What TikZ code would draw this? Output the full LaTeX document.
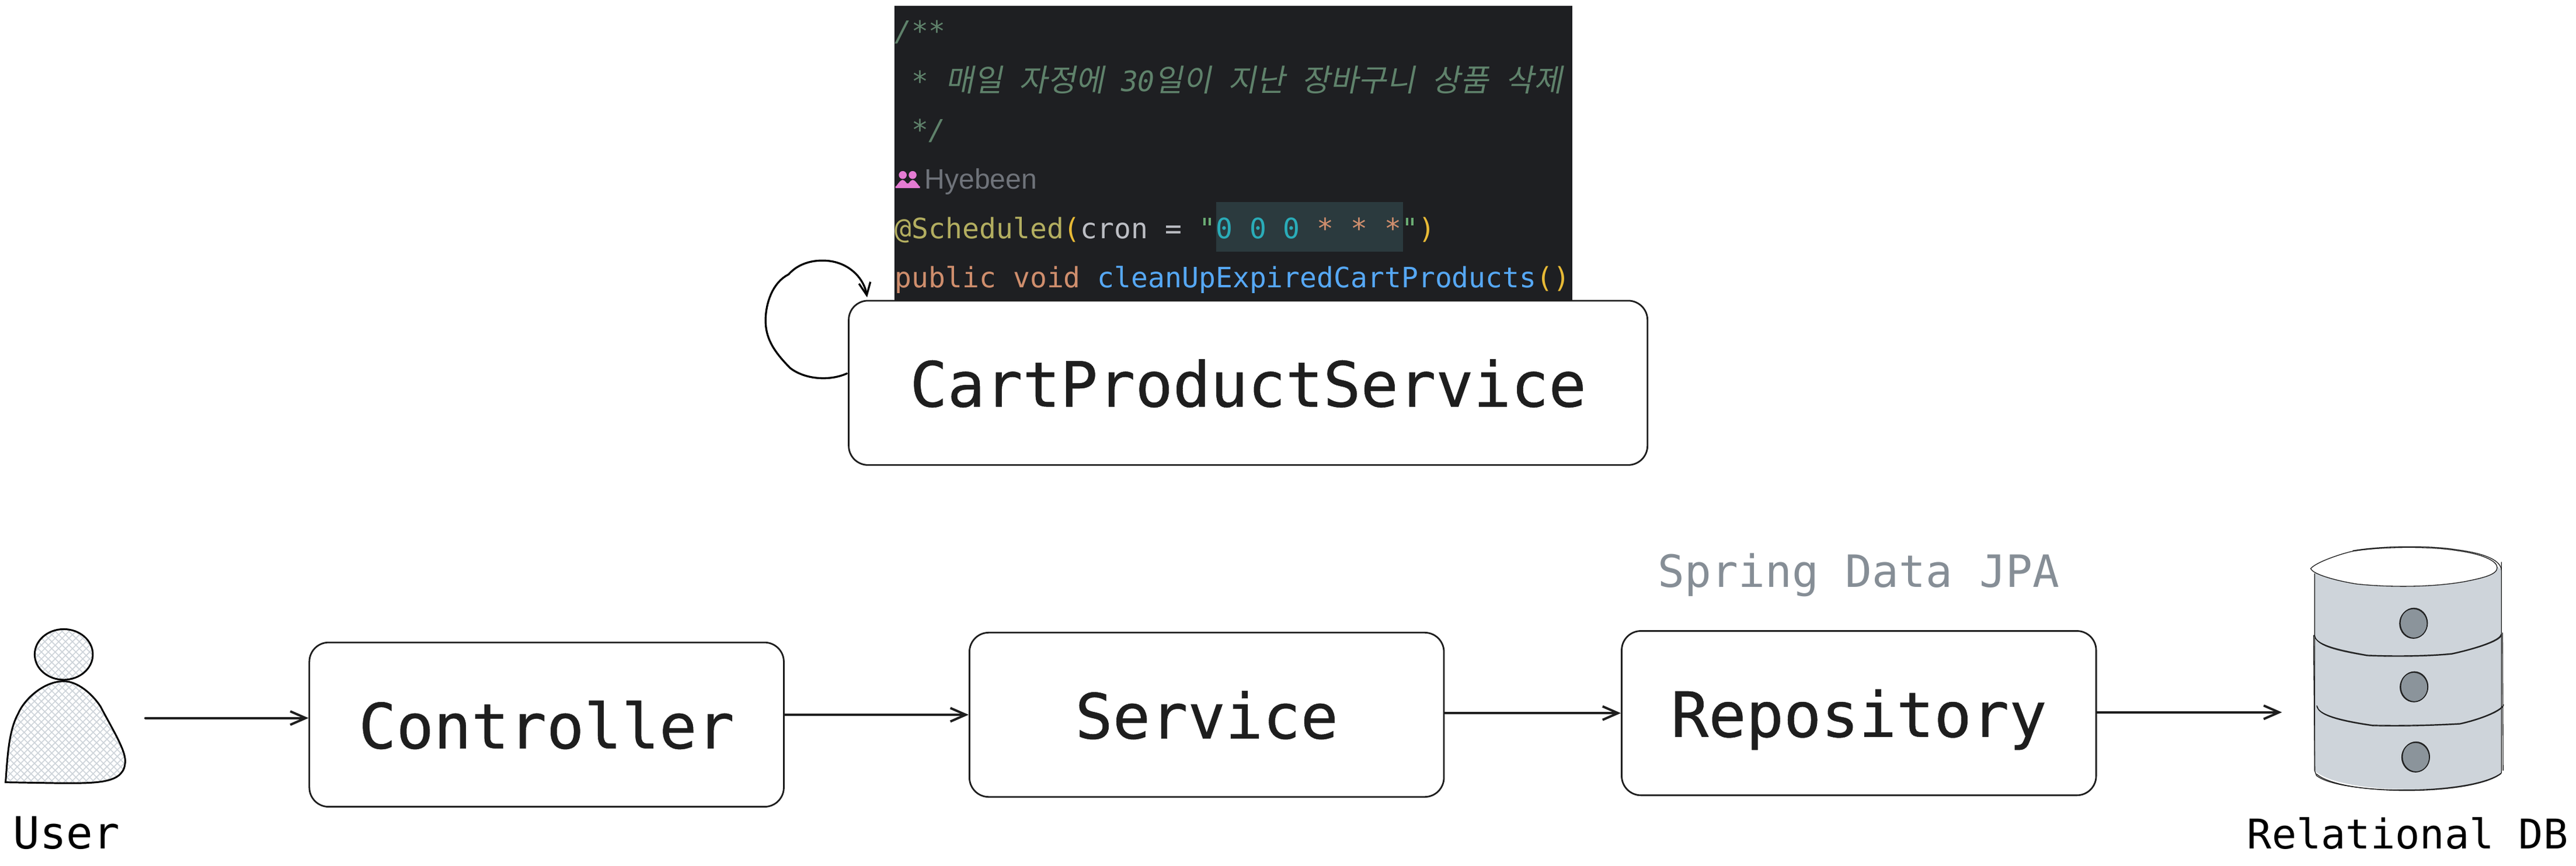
\documentclass[tikz,border=0pt]{standalone}
\usepackage{fontspec}
\usetikzlibrary{arrows.meta,calc}
\newfontfamily\monof{DejaVu Sans Mono}
\newfontfamily\monob[FakeBold=0.5]{DejaVu Sans Mono}
\newfontfamily\propf{Liberation Sans}
\newfontfamily\krf[FakeSlant=0.2]{Noto Sans CJK KR}
\definecolor{ink}{HTML}{1E1E1E}
\definecolor{codebg}{HTML}{1E1F22}
\definecolor{cmt}{HTML}{5F826B}
\definecolor{ann}{HTML}{B3AE60}
\definecolor{par}{HTML}{E8BA36}
\definecolor{plain}{HTML}{BCBEC4}
\definecolor{strg}{HTML}{6AAB73}
\definecolor{teal}{HTML}{2AACB8}
\definecolor{kwd}{HTML}{CF8E6D}
\definecolor{meth}{HTML}{56A8F5}
\definecolor{hint}{HTML}{6F737A}
\definecolor{hilite}{HTML}{2B3A3E}
\definecolor{pink}{HTML}{E57BD3}
\definecolor{hatch}{HTML}{CED4DA}
\definecolor{dbfill}{HTML}{CED4DA}
\definecolor{disk}{HTML}{8B949B}
\definecolor{jpa}{HTML}{868E96}
\tikzset{
  x=0.03cm,y=-0.03cm,
  svcbox/.style={draw=ink,line width=0.85pt,rounded corners=10pt,fill=white,inner sep=0pt,
    minimum width=246.5pt,minimum height=85.35pt,text height=24.7pt,text depth=0pt,
    text=ink,font=\monob\fontsize{32.43pt}{36pt}\selectfont},
  flow/.style={draw=ink,line width=1.2pt,line cap=round,-{Straight Barb[length=8pt,width=7pt,line width=1.2pt]}},
  sketch/.style={draw=ink,line width=0.4pt},
  codeline/.style={anchor=base west,inner sep=0pt,font=\monof\fontsize{14.57pt}{17pt}\selectfont},
  figure/.style={draw=black,line width=0.9pt},
  hatchline/.style={draw=hatch,line width=0.5pt},
}
\newcommand{\hg}[1]{{\krf\fontsize{16pt}{17pt}\selectfont #1}}
\begin{document}
\begin{tikzpicture}
\useasboundingbox (0,0) rectangle (1568,526.72);
\fill[white] (0,0) rectangle (1568,526.72);
% code screenshot
\fill[codebg] (544.5,3.5) rectangle (957,183);
\fill[hilite] (740.3,123) rectangle (854.1,153);
\node[codeline,text=cmt] (l1) at (544.5,25) {\itshape /**};
\node[codeline,text=cmt] (l2) at (554.8,55.5) {\itshape * \hg{매일} \hg{자정에} 30\hg{일이} \hg{지난} \hg{장바구니} \hg{상품} \hg{삭제}};
\node[codeline,text=cmt] (l3) at (554.8,85) {\itshape */};
% reviewer icon
\fill[pink] (549.5,106.5) circle (2.4);
\fill[pink] (555.5,106.5) circle (2.4);
\fill[pink] (545,114.5) -- (545,113) to[out=-90,in=180] (549.5,109.5) to[out=0,in=-90] (552.5,111.5) to[out=-90,in=180] (555.5,109.5) to[out=0,in=-90] (560,113) -- (560,114.5) -- cycle;
\node[anchor=base west,inner sep=0pt,text=hint,font=\propf\fontsize{14.6pt}{17pt}\selectfont] (l4) at (562.5,115) {Hyebeen};
\node[codeline] (l5) at (544.5,145) {\textcolor{ann}{@Scheduled}\textcolor{par}{(}\textcolor{plain}{cron = }\textcolor{strg}{"}\textcolor{teal}{0 0 0 }\textcolor{kwd}{* * *}\textcolor{strg}{"}\textcolor{par}{)}};
\node[codeline] (l6) at (544.5,175) {\textcolor{kwd}{public void }\textcolor{meth}{cleanUpExpiredCartProducts}\textcolor{par}{()}};
% boxes
\node[svcbox,minimum width=415pt] (cart) at (759.7,233) {CartProductService};
\node[svcbox] (controller) at (332.7,441) {Controller};
\node[svcbox] (service) at (734.5,435) {Service};
\node[svcbox] (repo) at (1131.5,434) {Repository};
\node[inner sep=0pt,text=jpa,font=\monof\fontsize{23.1pt}{26pt}\selectfont] (jpalabel) at (1131.5,350) {Spring Data JPA};
\node[inner sep=0pt,text=black,font=\monof\fontsize{23.04pt}{26pt}\selectfont,anchor=base] (userlabel) at (40.5,516.5) {User};
\node[inner sep=0pt,text=black,font=\monof\fontsize{21.3pt}{24pt}\selectfont,anchor=base] (dblabel) at (1465.5,516.5) {Relational DB};
% user figure
\begin{scope}
  \clip (38.8,398.3) ellipse (17.7 and 15.4);
  \foreach \k in {-60,...,60}{
    \draw[hatchline] (\k*4.2,380) -- ++(60,60);
    \draw[hatchline] (\k*4.2,380) -- ++(-60,60);
  }
\end{scope}
\draw[figure] (38.8,398.3) ellipse (17.7 and 15.4);
\def\bodyshape{(3.4,476.1) .. controls (4.6,460) and (5.3,445) .. (10.9,434.6) .. controls (15,425) and (27,414.6) .. (38.8,414.6) .. controls (47,414.6) and (56,422) .. (61.2,430) .. controls (68,443) and (76.2,456) .. (76.2,463) .. controls (76.2,477) and (60,476.8) .. (34,476.6) -- cycle}
\begin{scope}
  \clip \bodyshape;
  \foreach \k in {-30,...,40}{
    \draw[hatchline] (\k*4.2,410) -- ++(70,70);
    \draw[hatchline] (\k*4.2,410) -- ++(-70,70);
  }
\end{scope}
\draw[figure] \bodyshape;
% database
\fill[dbfill] (1408.9,347) .. controls (1425,334) and (1505,328) .. (1522.6,347) -- (1522.6,470.4) .. controls (1505,484) and (1425,484) .. (1408.9,469) -- cycle;
\draw[sketch] (1522.6,342) -- (1522.6,470.4) .. controls (1505,484) and (1425,484) .. (1410,472) -- (1408.9,469) -- (1408.9,349);
\draw[sketch] (1408.2,386.5) -- (1409,469);
\draw[sketch] (1523.3,385) -- (1523.6,469);
\draw[sketch] (1522.4,470.8) .. controls (1505,484.5) and (1425,484.5) .. (1410,471);
\draw[sketch] (1408.6,386.5) .. controls (1409.5,392) and (1420,395) .. (1440.9,398.7) .. controls (1460,399.5) and (1480,399) .. (1492.5,397.7) .. controls (1505,395) and (1522,390) .. (1522.4,385.9);
\draw[sketch] (1408.9,386.8) .. controls (1410,392.6) and (1420,395.6) .. (1440.9,399.1) .. controls (1460,399.9) and (1480,399.4) .. (1492.5,398.1) .. controls (1505,395.4) and (1522,390.4) .. (1522.6,386.5);
\draw[sketch] (1410.2,429.4) .. controls (1410.5,435) and (1425,438.5) .. (1444.1,441.3) .. controls (1465,441.8) and (1485,441) .. (1497.4,440.3) .. controls (1508,438) and (1522,433) .. (1524,428.8);
\draw[sketch] (1410.6,430) .. controls (1411,435.4) and (1425,439) .. (1444.1,441.7) .. controls (1465,442.2) and (1485,441.4) .. (1497.4,440.7) .. controls (1508,438.4) and (1522,433.4) .. (1523.6,429.6);
\draw[sketch,fill=white] (1406.5,346) .. controls (1410,342) and (1425,337) .. (1432,335.5) .. controls (1450,332.5) and (1480,332.5) .. (1495,335) .. controls (1510,337) and (1520,341) .. (1520,345.5) .. controls (1520,350) and (1510,352) .. (1500,354) .. controls (1480,357.5) and (1455,357.5) .. (1435,355.5) .. controls (1425,354) and (1408,350) .. (1406.5,346) -- cycle;
\draw[sketch] (1432,335.2) .. controls (1450,332) and (1480,332) .. (1495,334.5) .. controls (1510,336.5) and (1522,340) .. (1522.6,347);
\foreach \n/\cx/\cy in {d1/1469/379.5,d2/1469.3/418.2,d3/1470.3/460.9}{
  \draw[sketch,fill=disk] (\cx,\cy) ellipse (8.4 and 9);
  \draw[sketch] (\cx+0.3,\cy-0.3) ellipse (8.3 and 9.1);
}
% connectors
\coordinate (userout) at (88.5,437);
\coordinate (dbin) at (1389,433.5);
\coordinate (loopfrom) at (515.5,227.3);
\coordinate (loopto) at (527.8,181);
\draw[flow] (userout) -- (controller.west |- userout);
\draw[flow] (controller.east |- service.west) -- (service.west);
\draw[flow] (service.east |- repo.west) -- (repo.west);
\draw[flow] (repo.east |- dbin) -- (dbin);
\draw[draw=black,line width=1pt,line cap=round,-{Straight Barb[length=6.5pt,width=6pt,line width=1pt]}] (loopfrom) .. controls (505,232) and (490,231) .. (481,224) .. controls (470,213) and (466,205) .. (466,195) .. controls (466,185) and (470,172) .. (480,167) .. controls (488,158) and (500,158) .. (506,159) .. controls (518,161) and (526,170) .. (loopto);
\end{tikzpicture}
\end{document}
